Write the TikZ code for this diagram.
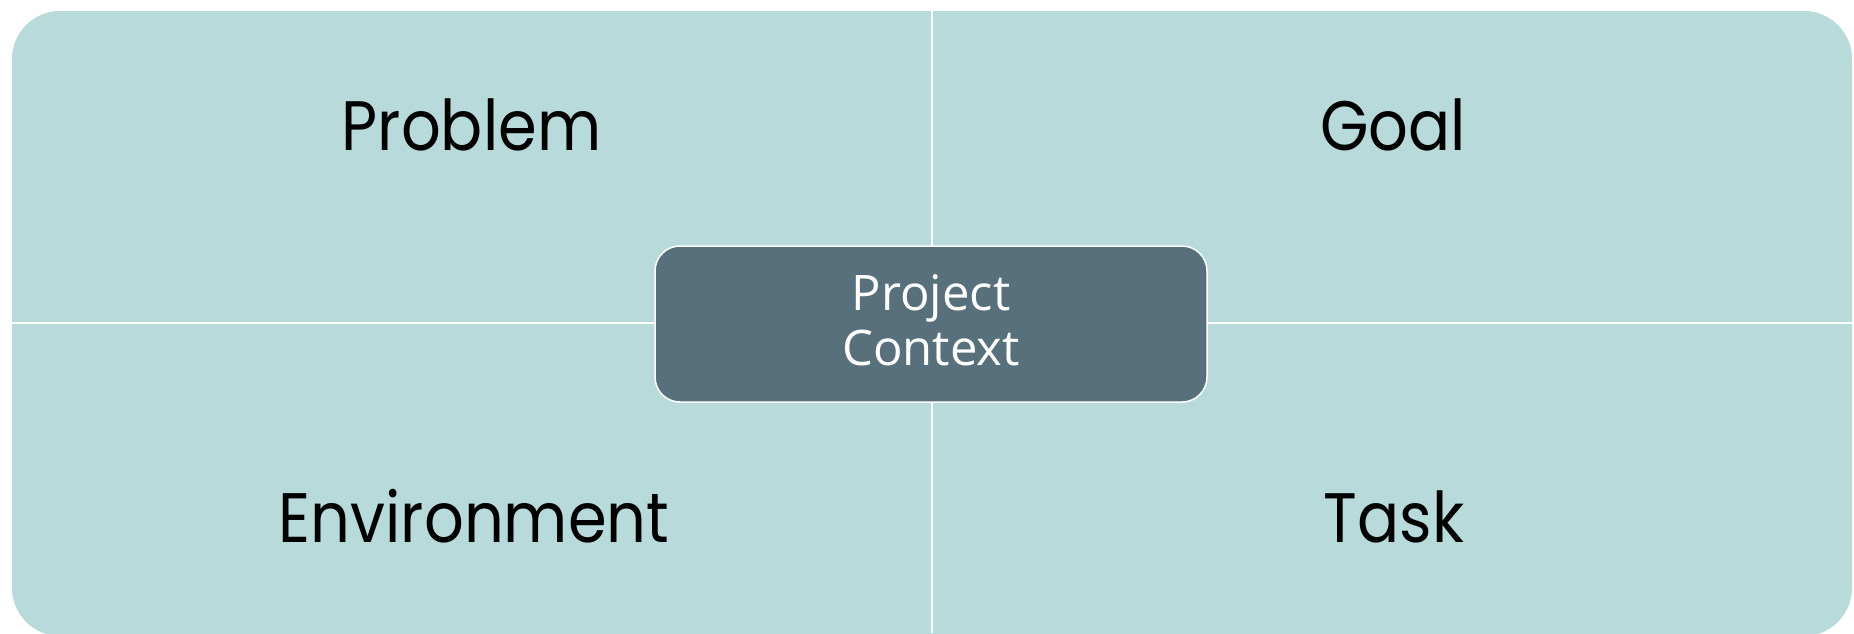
\documentclass[tikz,border=0pt]{standalone}
\usepackage{fontspec}
\newfontfamily\quadfont{Poppins}
\newfontfamily\centerfont{Open Sans}
\definecolor{teal}{HTML}{B8DADA}
\definecolor{slate}{HTML}{58707B}
\begin{document}
\begin{tikzpicture}[x=1pt,y=-1pt,
  quadlabel/.style={font=\quadfont\fontsize{70}{84}\selectfont, text=black, anchor=base, xscale=0.89},
  centerbox/.style={draw=white, line width=1.5pt, fill=slate, rounded corners=25pt},
  centerlabel/.style={font=\centerfont\fontsize{49}{58}\selectfont, text=white, anchor=base},
  sep/.style={draw=white, line width=2.2pt}]
\useasboundingbox (0,0) rectangle (1854,633);
\fill[teal, rounded corners=48pt] (12,11) rectangle (1852,636);
\coordinate (vtop) at (932,11);
\coordinate (vbot) at (932,633);
\coordinate (hleft) at (12,323);
\coordinate (hright) at (1852,323);
\draw[sep] (vtop) -- (vbot);
\draw[sep] (hleft) -- (hright);
\node[quadlabel] (problem) at (471.5,150) {Problem};
\node[quadlabel] (goal) at (1393,150) {Goal};
\node[quadlabel] (env) at (474,542) {Environment};
\node[quadlabel] (task) at (1394,542) {Task};
\draw[centerbox] (655,246) rectangle (1207,402);
\node[centerlabel] (ctx1) at (931,310) {Project};
\node[centerlabel] (ctx2) at (931,365) {Context};
\end{tikzpicture}
\end{document}
